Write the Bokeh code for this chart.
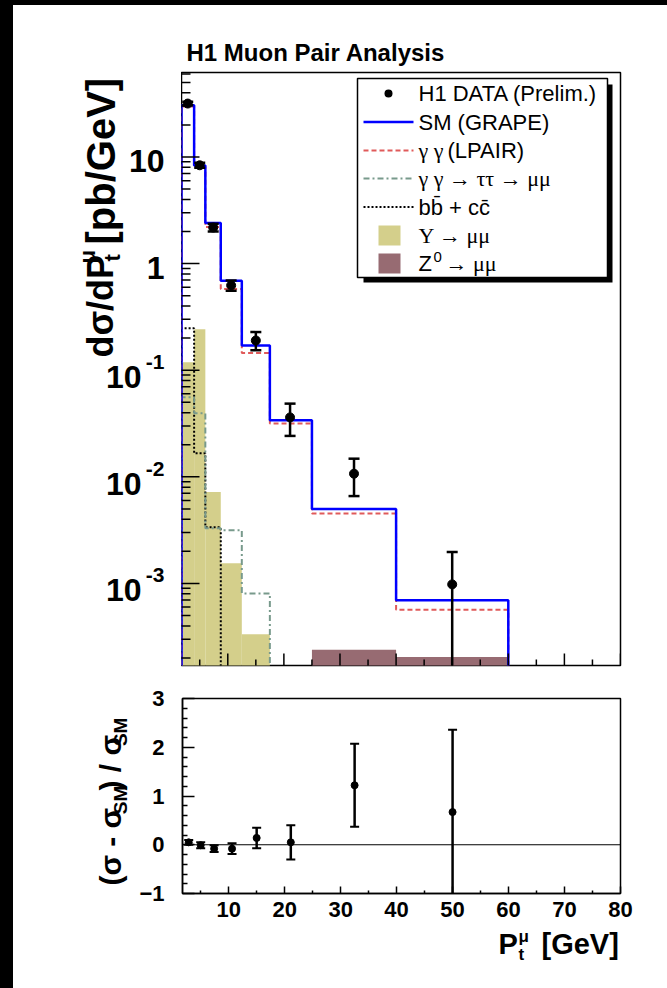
import math
from bokeh.plotting import figure
from bokeh.models import (Range1d, FixedTicker, Label, BoxAnnotation, Arrow, Span, Spacer,
                          LinearScale)
from bokeh.layouts import row, column
from bokeh.embed import file_html
from bokeh.resources import INLINE
from bokeh.core.properties import value

# ---------------- data ----------------
bin_edges = [1.75, 4.0, 6.0, 8.75, 12.5, 17.5, 25.0, 40.0, 60.0]
sm_grape = [30.5, 8.3, 2.40, 0.69, 0.171, 0.0339, 0.00499, 0.000695]
lpair = [29.8, 8.1, 2.20, 0.578, 0.145, 0.0316, 0.00452, 0.000568]
tautau = [0.0557, 0.0394, 0.0033, 0.00315, 0.000807, 0, 0, 0]
bb_cc = [0.247, 0.0166, 0.00336, 0, 0, 0, 0, 0]
upsilon = [0.1186, 0.242, 0.0072, 0.00155, 0.000334, 0, 0, 0]
z0 = [0, 0, 0, 0, 0, 0, 0.000239, 0.000204]

data_x = [2.86, 5.0, 7.4, 10.6, 15.0, 21.1, 32.5, 50.0]
data_y = [31.7, 8.36, 2.18, 0.625, 0.19, 0.0361, 0.0107, 0.00098]
data_err_up = [1.2, 0.45, 0.18, 0.07, 0.038, 0.0125, 0.0041, 0.00099]
data_err_dn = [1.2, 0.45, 0.18, 0.07, 0.036, 0.0119, 0.0041, 0.00098]

ratio = [0.05, -0.01, -0.08, -0.08, 0.14, 0.05, 1.22, 0.67]
ratio_err = [0.05, 0.06, 0.07, 0.11, 0.21, 0.35, 0.85, 1.69]

y_tick_values = [1e-3, 1e-2, 1e-1, 1.0, 10.0]
y_tick_base = ["10", "10", "10", "1", "10"]
y_tick_exp = ["-3", "-2", "-1", "", ""]
y_minor_values = [m * 10.0 ** e for e in range(-4, 2) for m in range(2, 10)]
x_tick_values = [10, 20, 30, 40, 50, 60, 70, 80]
x_minor_values = [5, 15, 25, 35, 45, 55, 65, 75]
ratio_tick_values = [-1, 0, 1, 2, 3]
ratio_minor_values = [-0.8, -0.6, -0.4, -0.2, 0.2, 0.4, 0.6, 0.8, 1.2, 1.4, 1.6, 1.8,
                      2.2, 2.4, 2.6, 2.8]

legend_labels = ["H1 DATA (Prelim.)", "SM (GRAPE)", "(LPAIR)", "γ γ → ττ → μμ",
                 "bb̄ + cc̄", "Υ → μμ", "→ μμ"]

title_text = "H1 Muon Pair Analysis"

X_RANGE = (1.75, 80.0)
Y_RANGE = (1.7e-4, 62.0)
R_RANGE = (-1.0, 3.0)

FONT = "Liberation Sans"
SERIF = "Liberation Serif"

C_SM = "#0000ff"
C_LPAIR = "#e05a5a"
C_TAU = "#789a8c"
C_BB = "#000000"
C_UPS = "#d4cf8b"
C_Z0 = "#976b72"

# page geometry (pixels)
W = 654
LEFT = 13
FL, FR = 181, 620
T_TOP, T_BOT = 72, 665
B_TOP, B_BOT = 698, 893
P1_Y0 = 5
P1_H = 675
P2_Y0 = P1_Y0 + P1_H          # 680
S2_W = 136 - LEFT             # left strip of the ratio panel
P2_SPLIT = 926                # bottom of ratio figure / top of x-title strip
P2_H = P2_SPLIT - P2_Y0
S3_H = 988 - P2_SPLIT


def fx(px):
    return px - FL


def fy1(py):
    return T_BOT - py


def step_outline(edges, vals, floor):
    xs = [edges[0]]
    ys = [floor]
    for i, v in enumerate(vals):
        vv = v if v > 0 else floor
        xs += [edges[i], edges[i + 1]]
        ys += [vv, vv]
    xs.append(edges[-1])
    ys.append(floor)
    return xs, ys


def plain(p):
    p.grid.visible = False
    p.outline_line_color = None
    p.background_fill_color = "white"
    p.border_fill_color = "white"


def txt(p, x, y, text, size, font=FONT, style="bold", angle=0.0, align="left",
        baseline="middle", **kw):
    p.text(x=x, y=y, text=text, text_font=value(font), text_font_style=style,
           text_font_size=value(f"{size}px"), angle=angle, text_align=align,
           text_baseline=baseline, text_color="black", **kw)


def add_label(p, x, y, text, size, font=FONT, style="bold"):
    p.add_layout(Label(x=x, y=y, x_units="screen", y_units="screen", text=text,
                       text_font=font, text_font_style=style,
                       text_font_size=f"{size}px", text_align="left",
                       text_baseline="middle", text_color="black"))


def sbox(p, l, r, t, b, **kw):
    p.add_layout(BoxAnnotation(left=fx(l), right=fx(r), top=fy1(t), bottom=fy1(b),
                               left_units="screen", right_units="screen",
                               top_units="screen", bottom_units="screen", **kw))


# ---------------- top panel ----------------
y_range = Range1d(*Y_RANGE)
p1 = figure(width=W - (FL - LEFT), height=P1_H, x_range=Range1d(*X_RANGE), y_range=y_range,
            y_axis_type="log", output_backend="svg", toolbar_location=None,
            x_axis_location=None, y_axis_location=None,
            min_border_left=0, min_border_right=LEFT + W - FR,
            min_border_top=T_TOP - P1_Y0, min_border_bottom=P2_Y0 - T_BOT)
plain(p1)
p1.outline_line_color = "black"
p1.outline_line_width = 1.5
p1.title.text = title_text
p1.title.align = "left"
p1.title.offset = 5
p1.title.standoff = 13
p1.title.text_font = FONT
p1.title.text_font_style = "bold"
p1.title.text_font_size = "24px"
p1.title.text_color = "black"

floor = Y_RANGE[0] * 0.3
bottoms = [floor] * len(upsilon)
# filled histograms
p1.quad(left=bin_edges[:-1], right=bin_edges[1:],
        top=[v if v > 0 else floor for v in upsilon], bottom=bottoms,
        fill_color=C_UPS, line_color=None)
p1.quad(left=bin_edges[:-1], right=bin_edges[1:],
        top=[v if v > 0 else floor for v in z0], bottom=bottoms,
        fill_color=C_Z0, line_color=None)
# line histograms
xs, ys = step_outline(bin_edges, bb_cc, floor)
p1.line(xs, ys, line_color=C_BB, line_width=2, line_dash="2 2")
xs, ys = step_outline(bin_edges, tautau, floor)
p1.line(xs, ys, line_color=C_TAU, line_width=2, line_dash="6 3 2 3")
xs, ys = step_outline(bin_edges, lpair, floor)
p1.line(xs, ys, line_color=C_LPAIR, line_width=2, line_dash="5 3")
xs, ys = step_outline(bin_edges, sm_grape, floor)
p1.line(xs, ys, line_color=C_SM, line_width=2.5)

# axis ticks pointing inwards (half of each dash is clipped by the frame)
p1.scatter(x=x_tick_values, y=[Y_RANGE[0]] * len(x_tick_values), marker="dash", angle=math.pi / 2,
           size=24, line_color="black", line_width=1.5)
p1.scatter(x=x_minor_values, y=[Y_RANGE[0]] * len(x_minor_values), marker="dash",
           angle=math.pi / 2, size=12, line_color="black", line_width=1.5)
p1.scatter(x=[X_RANGE[0]] * len(y_tick_values), y=y_tick_values, marker="dash",
           size=36, line_color="black", line_width=1.5)
p1.scatter(x=[X_RANGE[0]] * len(y_minor_values), y=y_minor_values, marker="dash",
           size=18, line_color="black", line_width=1.5)

# data points
y_lo = [max(v - d, floor) for v, d in zip(data_y, data_err_dn)]
y_hi = [v + u for v, u in zip(data_y, data_err_up)]
p1.segment(x0=data_x, y0=y_lo, x1=data_x, y1=y_hi, line_color="black", line_width=2.5)
p1.scatter(x=data_x, y=y_hi, marker="dash", size=11, line_color="black", line_width=2.5)
p1.scatter(x=data_x, y=y_lo, marker="dash", size=11, line_color="black", line_width=2.5)
p1.scatter(x=data_x, y=data_y, marker="circle", size=9, fill_color="black", line_color="black")

# legend (ROOT style box with shadow)
sbox(p1, 363, 612, 84, 282, fill_color="black", fill_alpha=1.0, line_color=None)
sbox(p1, 357, 607, 78, 277, fill_color="white", fill_alpha=1.0, line_color="black",
     line_width=1.5, line_alpha=1.0)
ly = [93, 121.5, 150, 178, 206.5, 235, 263]
TX = 418
LS = 22
sbox(p1, 384, 392, ly[0] - 4, ly[0] + 4, fill_color="black", fill_alpha=1.0, line_color=None,
     border_radius=4)
add_label(p1, fx(TX), fy1(ly[0]), legend_labels[0], LS, style="normal")
for k, (col, dash, lw) in zip([1, 2, 3, 4], [(C_SM, "solid", 2.5), (C_LPAIR, "5 3", 2),
                                            (C_TAU, "6 3 2 3", 2), (C_BB, "2 2", 2)]):
    p1.add_layout(Arrow(end=None, x_start=fx(363), y_start=fy1(ly[k]), x_end=fx(413),
                        y_end=fy1(ly[k]), start_units="screen", end_units="screen",
                        line_color=col, line_width=lw, line_dash=dash))
add_label(p1, fx(TX), fy1(ly[1]), legend_labels[1], LS, style="normal")
add_label(p1, fx(TX), fy1(ly[2]), "γ γ", LS, font=SERIF, style="normal")
add_label(p1, fx(TX + 29), fy1(ly[2]), legend_labels[2], LS, style="normal")
add_label(p1, fx(TX), fy1(ly[3]), legend_labels[3], LS, font=SERIF, style="normal")
add_label(p1, fx(TX), fy1(ly[4]), legend_labels[4], LS, style="normal")
for k, col in zip([5, 6], [C_UPS, C_Z0]):
    sbox(p1, 378, 400, ly[k] - 10, ly[k] + 10, fill_color=col, fill_alpha=1.0, line_color=None)
add_label(p1, fx(TX), fy1(ly[5]), legend_labels[5], LS, font=SERIF, style="normal")
add_label(p1, fx(TX), fy1(ly[6]), "Z", LS, style="normal")
add_label(p1, fx(TX + 15), fy1(ly[6] - 7), "0", 15, style="normal")
add_label(p1, fx(TX + 27), fy1(ly[6]), legend_labels[6], LS, font=SERIF, style="normal")

# ---------------- left strip of top panel: y tick labels + y title ----------------
s1 = figure(width=FL - LEFT, height=P1_H, x_range=Range1d(LEFT, FL), y_range=y_range,
            y_axis_type="log", output_backend="svg", toolbar_location=None,
            x_axis_location=None, y_axis_location=None,
            min_border_left=0, min_border_right=0,
            min_border_top=T_TOP - P1_Y0, min_border_bottom=P2_Y0 - T_BOT)
plain(s1)
s1.extra_y_ranges = {"px": Range1d(start=T_BOT, end=T_TOP)}
s1.extra_y_scales = {"px": LinearScale()}
TICK_R = 164
base_x = [TICK_R - 23 if e else TICK_R for e in y_tick_exp]
base_off = [7 if e else 4 for e in y_tick_exp]
txt(s1, base_x, y_tick_values, y_tick_base, 32, align="right", y_offset=base_off)
exp_idx = [i for i, e in enumerate(y_tick_exp) if e]
txt(s1, [TICK_R] * len(exp_idx), [y_tick_values[i] for i in exp_idx],
    [y_tick_exp[i] for i in exp_idx], 21, align="right", y_offset=-8)

YX = 100
txt(s1, [YX], [357], ["dσ/dP"], 36, angle=math.pi / 2, y_range_name="px")
txt(s1, [YX + 12], [261], ["t"], 22, angle=math.pi / 2, y_range_name="px")
txt(s1, [YX - 13], [263], ["μ"], 22, angle=math.pi / 2, y_range_name="px")
txt(s1, [YX], [244], ["[pb/GeV]"], 40, angle=math.pi / 2, y_range_name="px")

# ---------------- ratio panel ----------------
p2 = figure(width=W - S2_W, height=P2_H, x_range=Range1d(*X_RANGE), y_range=Range1d(*R_RANGE),
            output_backend="svg", toolbar_location=None,
            min_border_left=FL - LEFT - S2_W, min_border_right=LEFT + W - FR,
            min_border_top=B_TOP - P2_Y0, min_border_bottom=P2_SPLIT - B_BOT)
p2.grid.visible = False
p2.outline_line_color = "black"
p2.outline_line_width = 1.5
p2.border_fill_color = "white"
for ax in (p2.xaxis[0], p2.yaxis[0]):
    ax.axis_line_color = "black"
    ax.axis_line_width = 1.5
    ax.major_tick_line_color = "black"
    ax.major_tick_line_width = 1.5
    ax.minor_tick_line_color = "black"
    ax.minor_tick_line_width = 1.5
    ax.major_tick_out = 0
    ax.minor_tick_out = 0
    ax.major_label_text_font = FONT
    ax.major_label_text_font_style = "bold"
    ax.major_label_text_color = "black"
    ax.major_label_text_font_size = "22px"
p2.yaxis.ticker = FixedTicker(ticks=ratio_tick_values, minor_ticks=ratio_minor_values)
p2.yaxis.major_tick_in = 12
p2.yaxis.minor_tick_in = 5
p2.yaxis.major_label_standoff = 18
p2.xaxis.ticker = FixedTicker(ticks=x_tick_values, minor_ticks=x_minor_values)
p2.xaxis.major_tick_in = 7
p2.xaxis.minor_tick_in = 3
p2.xaxis.major_label_standoff = 8

p2.add_layout(Span(location=0, dimension="width", line_color="black", line_width=1))
r_lo = [v - e for v, e in zip(ratio, ratio_err)]
r_hi = [v + e for v, e in zip(ratio, ratio_err)]
p2.segment(x0=data_x, y0=r_lo, x1=data_x, y1=r_hi, line_color="black", line_width=2.5)
p2.scatter(x=data_x, y=r_hi, marker="dash", size=9, line_color="black", line_width=2)
p2.scatter(x=data_x, y=r_lo, marker="dash", size=9, line_color="black", line_width=2)
p2.scatter(x=data_x, y=ratio, marker="circle", size=7, fill_color="black", line_color="black")

# left strip of the ratio panel: rotated y title
s2 = figure(width=S2_W, height=P2_H, x_range=Range1d(LEFT, LEFT + S2_W),
            y_range=Range1d(P2_SPLIT, P2_Y0), output_backend="svg", toolbar_location=None,
            x_axis_location=None, y_axis_location=None,
            min_border_left=0, min_border_right=0, min_border_top=0, min_border_bottom=0)
plain(s2)
RX = 110
txt(s2, [RX], [916], ["(σ - σ"], 30, angle=math.pi / 2)
txt(s2, [RX + 10], [826], ["SM"], 19, angle=math.pi / 2)
txt(s2, [RX], [796], [") / σ"], 30, angle=math.pi / 2)
txt(s2, [RX + 10], [740], ["SM"], 19, angle=math.pi / 2)

# bottom strip (full width): x title
s3 = figure(width=W, height=S3_H, x_range=Range1d(LEFT, LEFT + W),
            y_range=Range1d(988, P2_SPLIT), output_backend="svg", toolbar_location=None,
            x_axis_location=None, y_axis_location=None,
            min_border_left=0, min_border_right=0, min_border_top=0, min_border_bottom=0)
plain(s3)
txt(s3, [498], [943], ["P"], 29)
txt(s3, [518], [954], ["t"], 17)
txt(s3, [518], [936], ["μ"], 17)
txt(s3, [541], [943], ["[GeV]"], 29)

black = {"background-color": "black"}
layout = row(
    Spacer(width=LEFT, height=988, styles=black),
    column(
        Spacer(width=W, height=P1_Y0, styles=black),
        row(s1, p1),
        row(s2, p2),
        s3,
    ),
)

open("out.html", "w").write(file_html(layout, INLINE))
